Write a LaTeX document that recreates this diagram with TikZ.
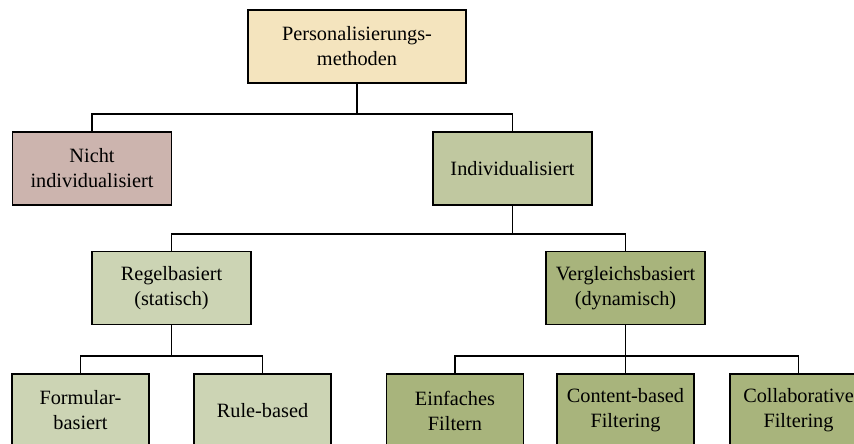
\documentclass[tikz,border=0pt]{standalone}
\usepackage{fontspec}
\setmainfont{Liberation Serif}
\usetikzlibrary{positioning}
\definecolor{wheatbox}{HTML}{F4E4BE}
\definecolor{rosebox}{HTML}{CCB4AE}
\definecolor{olivebox}{HTML}{C0C8A0}
\definecolor{palebox}{HTML}{CCD4B4}
\definecolor{darkbox}{HTML}{A8B47C}

\begin{document}
\begin{tikzpicture}[x=1pt, y=-1pt,
        box/.style={draw, line width=1.4pt, inner sep=0pt, align=center,
            minimum width=159pt, minimum height=73pt,
            font=\rmfamily\fontsize{20.3}{25}\selectfont},
        leaf/.style={box, minimum width=137pt},
        link/.style={line width=1.2pt}]
        \useasboundingbox (0,0) rectangle (854,444);
        \clip (0,0) rectangle (854,444);

        % top level
        \node[box, fill=wheatbox, minimum width=218pt] (pers) at (357,46.5) {Personalisierungs-\\methoden};

        % second level
        \node[box, fill=rosebox] (nicht) at (92,168.5) {Nicht\\individualisiert};
        \node[box, fill=olivebox] (indiv) at (512.5,168.5) {Individualisiert};

        % third level
        \node[box, fill=palebox] (regel) at (171.5,288) {Regelbasiert\\(statisch)};
        \node[box, fill=darkbox] (vergl) at (625.5,288) {Vergleichsbasiert\\(dynamisch)};

        % leaves
        \node[leaf, fill=palebox] (formular) at (80.5,410.5) {Formular-\\basiert};
        \node[leaf, fill=palebox] (rule) at (262.5,410.5) {Rule-based};
        \node[leaf, fill=darkbox] (einfach) at (455,410.5) {Einfaches\\Filtern};
        \node[leaf, fill=darkbox] (content) at (625.5,410.5) {Content-based\\Filtering};
        \node[leaf, fill=darkbox] (collab) at (798.5,410.5) {Collaborative\\Filtering};

        % bars
        \coordinate (barA) at (0,114);
        \coordinate (barB) at (0,234);
        \coordinate (barC) at (0,356);

        % connectors
        \draw[link] (pers.south) -- (pers.south |- barA) -| (nicht.north);
        \draw[link] (pers.south |- barA) -| (indiv.north);

        \draw[link] (indiv.south) -- (indiv.south |- barB) -| (regel.north);
        \draw[link] (indiv.south |- barB) -| (vergl.north);

        \draw[link] (regel.south) -- (regel.south |- barC) -| (formular.north);
        \draw[link] (regel.south |- barC) -| (rule.north);

        \draw[link] (vergl.south) -- (vergl.south |- barC) -| (einfach.north);
        \draw[link] (vergl.south |- barC) -| (collab.north);
        \draw[link] (vergl.south |- barC) -- (content.north);

\end{tikzpicture}
\end{document}
